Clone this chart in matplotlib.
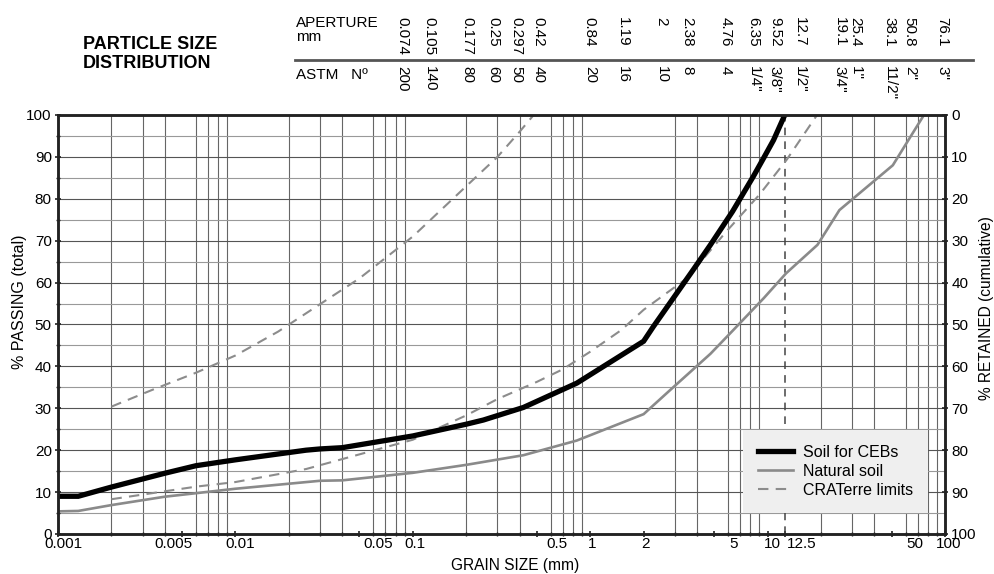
import matplotlib
matplotlib.use("Agg")
import matplotlib.pyplot as plt
from matplotlib.ticker import FixedLocator, LogLocator, NullFormatter, MultipleLocator
from matplotlib import transforms
import numpy as np

plt.rcParams["font.family"] = ["Liberation Sans", "DejaVu Sans"]

# grain size (mm) / % passing
ceb_size = [0.001, 0.0013, 0.002, 0.004, 0.006, 0.01, 0.025, 0.03, 0.04, 0.1, 0.2,
            0.25, 0.42, 0.84, 2, 2.27, 3.8, 4.76, 6.35, 8.3, 9.52, 10.8, 12.5]
ceb_pass = [9.0, 9.0, 11.2, 14.5, 16.3, 17.7, 20.0, 20.3, 20.6, 23.4, 26.2,
            27.2, 30.2, 36.0, 46.0, 49.5, 63.0, 69.0, 77.0, 85.3, 89.8, 94.0, 100.0]

nat_size = [0.001, 0.0013, 0.002, 0.004, 0.01, 0.03, 0.04, 0.1, 0.2, 0.42, 0.84,
            2, 2.9, 4.76, 6.35, 9.52, 12.7, 19.1, 25.4, 50.8, 76.1]
nat_pass = [5.4, 5.5, 6.9, 8.9, 10.8, 12.7, 12.8, 14.6, 16.5, 18.8, 22.3,
            28.6, 34.8, 43.0, 48.5, 56.3, 62.2, 69.0, 77.3, 88.0, 100.0]

upper_size = [0.002, 0.0034, 0.006, 0.01, 0.0174, 0.05, 0.1, 0.2, 0.3, 0.4, 0.48]
upper_pass = [30.4, 34.4, 38.5, 42.6, 48.3, 61.0, 71.0, 83.0, 90.0, 96.0, 100.0]

lower_size = [0.002, 0.006, 0.01, 0.025, 0.05, 0.1, 0.2, 0.3, 0.5, 0.7, 1.0, 1.5,
              2.0, 3.5, 5.8, 9.0, 12.8, 19.0]
lower_pass = [8.3, 11.3, 12.4, 15.5, 19.0, 22.5, 28.3, 32.2, 36.3, 39.3, 43.5, 48.7,
              53.5, 61.0, 72.0, 81.0, 89.3, 100.0]

limit_size = 12.5

# sieve header
apertures = ["0.074", "0.105", "0.177", "0.25", "0.297", "0.42", "0.84", "1.19", "2",
             "2.38", "4.76", "6.35", "9.52", "12.7", "19.1", "25.4", "38.1", "50.8", "76.1"]
astm = ["200", "140", "80", "60", "50", "40", "20", "16", "10", "8", "4",
        '1/4"', '3/8"', '1/2"', '3/4"', '1"', '11/2"', '2"', '3"']
# pixel nudges of the header columns, as laid out in the original drawing
header_dx = [13, 13, 11, 10, 20, 15, 13, 19, 18, 30, 15, 21, 11, 14, 22, 16, 19, 17, 18]

xtick_vals = [0.001, 0.005, 0.01, 0.05, 0.1, 0.5, 1, 2, 5, 10, 12.5, 50, 100]
xtick_labels = ["0.001", "0.005", "0.01", "0.05", "0.1", "0.5", "1", "2", "5", "10",
                "12.5", "50", "100"]
xtick_dx = [5, -9, 5, 19, 2, 20, 2, 2, 19, 5, 17, 23, 4]

fig = plt.figure(figsize=(9.94, 5.74), dpi=100)
ax = fig.add_axes([0.0584, 0.0697, 0.8923, 0.73])

ax.set_xscale("log")
ax.set_xlim(0.001, 100)
ax.set_ylim(0, 100)

ax.xaxis.set_major_locator(FixedLocator(xtick_vals))
ax.xaxis.set_major_formatter(NullFormatter())
ax.xaxis.set_minor_locator(LogLocator(base=10, subs=np.arange(1, 10), numticks=20))
ax.xaxis.set_minor_formatter(NullFormatter())
ax.yaxis.set_major_locator(MultipleLocator(10))
ax.yaxis.set_minor_locator(MultipleLocator(5))

ax.grid(False)
ax.grid(True, which="minor", axis="x", color="#666666", lw=0.8)
ax.grid(True, which="major", axis="y", color="#555555", lw=0.8)
ax.grid(True, which="minor", axis="y", color="#999999", lw=0.8)
ax.set_axisbelow(True)

for s in ax.spines.values():
    s.set_linewidth(1.8)
    s.set_color("#222222")

ax.tick_params(axis="both", which="major", direction="inout", length=5, width=1.2,
               labelsize=11, pad=2, color="#222222")
ax.tick_params(axis="both", which="minor", direction="inout", length=3, width=1,
               color="#222222")
ax.tick_params(axis="y", labelleft=True, right=False)
ax.tick_params(axis="x", top=False)

# x tick labels, drawn as text so each can sit where the original put it
xlab = transforms.blended_transform_factory(ax.transData, ax.transAxes)
for xv, lab, dx in zip(xtick_vals, xtick_labels, xtick_dx):
    tr = xlab + transforms.ScaledTranslation(dx / 100, -3 / 100, fig.dpi_scale_trans)
    ax.text(xv, 0, lab, transform=tr, ha="center", va="top", fontsize=11, clip_on=False)

ax.axvline(limit_size, color="#444444", lw=1.1, dashes=(5, 4))

ax.plot(upper_size, upper_pass, color="#8c8c8c", lw=1.5, dashes=(5, 3.5))
ax.plot(lower_size, lower_pass, color="#8c8c8c", lw=1.5, dashes=(5, 3.5),
        label="CRATerre limits")
ax.plot(nat_size, nat_pass, color="#8a8a8a", lw=1.9, label="Natural soil")
ax.plot(ceb_size, ceb_pass, color="black", lw=3.8, solid_joinstyle="miter",
        label="Soil for CEBs")

handles, labels = ax.get_legend_handles_labels()
order = [2, 1, 0]
leg = ax.legend([handles[i] for i in order], [labels[i] for i in order],
                loc="lower right", bbox_to_anchor=(0.981, 0.05), borderaxespad=0,
                fontsize=11.5, frameon=True, fancybox=False, facecolor="#efefef",
                edgecolor="none", framealpha=1, handlelength=2.2, handletextpad=0.6,
                labelspacing=0.25, borderpad=0.95)

ax.set_ylabel("% PASSING (total)", fontsize=11.5)
ax.yaxis.set_label_coords(-0.035, 0.554)
ax.set_xlabel("GRAIN SIZE (mm)", fontsize=11.2)
ax.xaxis.set_label_coords(0.515, -0.058)

ax2 = ax.twinx()
ax2.set_ylim(100, 0)
ax2.yaxis.set_major_locator(MultipleLocator(10))
ax2.tick_params(axis="y", direction="inout", length=5, width=1.2, labelsize=11, pad=2,
                color="#222222")
ax2.set_ylabel("% RETAINED (cumulative)", fontsize=11.2)
ax2.yaxis.set_label_coords(1.038, 0.539)
for s in ax2.spines.values():
    s.set_linewidth(1.8)
    s.set_color("#222222")

# header
fig.text(0.0835, 0.937, "PARTICLE SIZE\nDISTRIBUTION", fontsize=13, fontweight="bold",
         ha="left", va="top", linespacing=1.15)
fig.text(0.298, 0.972, "APERTURE\nmm", fontsize=11, ha="left", va="top", linespacing=0.95)
fig.text(0.298, 0.869, "ASTM   N\u00ba", fontsize=11, ha="left", va="center")
fig.add_artist(plt.Line2D([0.297, 0.979], [0.8955, 0.8955], color="#555555", lw=2,
                          transform=fig.transFigure))

blend = transforms.blended_transform_factory(ax.transData, fig.transFigure)
for ap, no, dx in zip(apertures, astm, header_dx):
    xv = float(ap)
    tr = blend + transforms.ScaledTranslation(dx / 100, 0, fig.dpi_scale_trans)
    ax.text(xv, 0.970, ap, transform=tr, rotation=270, fontsize=11, ha="center",
            va="top", clip_on=False)
    ax.text(xv, 0.885, no, transform=tr, rotation=270, fontsize=11, ha="center",
            va="top", clip_on=False)

fig.savefig("out.png", dpi=100)
